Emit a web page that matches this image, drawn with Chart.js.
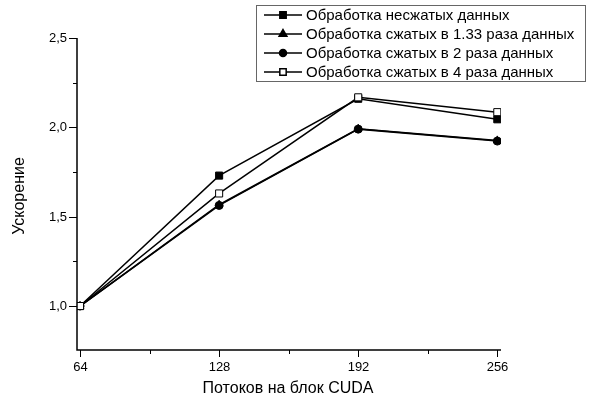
<!DOCTYPE html>
<html>
<head>
<meta charset="utf-8">
<script src="https://cdn.jsdelivr.net/npm/chart.js@4.4.0/dist/chart.umd.min.js"></script>
<style>
  html, body { margin: 0; padding: 0; background: #fff; }
  #wrap { width: 590px; height: 401px; }
</style>
</head>
<body>
<div id="wrap"><canvas id="myChart" width="590" height="401"></canvas></div>
<script>
var threads = [64, 128, 192, 256];
var uncompressed = [1.0, 1.73, 2.16, 2.045];
var compressed133 = [1.0, 1.567, 1.992, 1.927];
var compressed2 = [1.0, 1.563, 1.99, 1.923];
var compressed4 = [1.0, 1.63, 2.168, 2.085];

var seriesNames = [
  'Обработка несжатых данных',
  'Обработка сжатых в 1.33 раза данных',
  'Обработка сжатых в 2 раза данных',
  'Обработка сжатых в 4 раза данных'
];
var xTicks = [64, 96, 128, 160, 192, 224, 256];
var yTicks = [1.0, 1.25, 1.5, 1.75, 2.0, 2.25, 2.5];

function pts(arr) {
  return arr.map(function (v, i) { return { x: threads[i], y: v }; });
}

var ctx = document.getElementById('myChart').getContext('2d');
var FONT = '"Liberation Sans", Arial, sans-serif';

// axes, ticks, titles and legend box drawn by hand to mimic the Origin look
var origin = {
  id: 'origin',
  afterDraw: function (chart) {
    var c = chart.ctx;
    var a = chart.chartArea;
    var xs = chart.scales.x, ys = chart.scales.y;
    c.save();
    c.strokeStyle = '#000';
    c.fillStyle = '#000';
    c.lineWidth = 1.5;
    c.beginPath();
    c.moveTo(a.left, a.top);
    c.lineTo(a.left, a.bottom);
    c.lineTo(a.right, a.bottom);
    c.stroke();

    c.lineWidth = 1;
    c.font = '13px ' + FONT;
    c.textAlign = 'center';
    c.textBaseline = 'middle';
    xTicks.forEach(function (t) {
      var px = Math.round(xs.getPixelForValue(t)) + 0.5;
      var major = t % 64 === 0;
      c.beginPath();
      c.moveTo(px, a.bottom);
      c.lineTo(px, a.bottom + (major ? 7 : 4));
      c.stroke();
      if (major) c.fillText(String(t), px, a.bottom + 17);
    });
    c.textAlign = 'right';
    yTicks.forEach(function (t) {
      var py = Math.round(ys.getPixelForValue(t)) + 0.5;
      var major = Math.abs(t * 2 - Math.round(t * 2)) < 1e-6;
      c.beginPath();
      c.moveTo(a.left, py);
      c.lineTo(a.left - (major ? 8 : 4), py);
      c.stroke();
      if (major) c.fillText(t.toFixed(1).replace('.', ','), a.left - 10, py);
    });

    c.font = '16px ' + FONT;
    c.textAlign = 'center';
    c.fillText('Потоков на блок CUDA', (a.left + a.right) / 2 - 1, 389);
    c.save();
    c.translate(20, 196);
    c.rotate(-Math.PI / 2);
    c.fillText('Ускорение', 0, 0);
    c.restore();

    // legend
    var lx = 256.5, ly = 5.5, lw = 329, lh = 76;
    c.fillStyle = '#fff';
    c.fillRect(lx, ly, lw, lh);
    c.strokeStyle = '#666';
    c.lineWidth = 1;
    c.strokeRect(lx, ly, lw, lh);
    c.strokeStyle = '#000';
    c.textAlign = 'left';
    var rows = [15, 34, 53, 72];
    chart.data.datasets.forEach(function (ds, i) {
      var y = rows[i];
      c.lineWidth = 1.5;
      c.beginPath();
      c.moveTo(264, y);
      c.lineTo(302, y);
      c.stroke();
      c.fillStyle = ds.pointBackgroundColor;
      c.strokeStyle = '#000';
      Chart.helpers.drawPoint(c, {
        pointStyle: ds.pointStyle,
        radius: ds.pointStyle === 'circle' ? 3.5 : 4.5,
        borderWidth: 1
      }, 283, y);
      c.fillStyle = '#000';
      c.font = '15px ' + FONT;
      c.fillText(seriesNames[i], 306, y + 1);
    });
    c.restore();
  }
};

function ds(i, data, style, fill, radius, order) {
  return {
    label: seriesNames[i],
    data: pts(data),
    borderColor: '#000',
    borderWidth: 1.5,
    pointStyle: style,
    pointRadius: radius,
    pointHoverRadius: radius,
    pointBackgroundColor: fill,
    pointBorderColor: '#000',
    pointBorderWidth: 1,
    order: order,
    tension: 0
  };
}

var myChart = new Chart(ctx, {
  type: 'line',
  data: {
    datasets: [
      ds(0, uncompressed, 'rect', '#000', 5, 2),
      ds(1, compressed133, 'triangle', '#000', 4.5, 3),
      ds(2, compressed2, 'circle', '#000', 4, 1),
      ds(3, compressed4, 'rect', '#fff', 5, 0)
    ]
  },
  options: {
    responsive: false,
    animation: false,
    layout: { padding: { left: 77, right: 89, top: 38, bottom: 51 } },
    plugins: { legend: { display: false }, tooltip: { enabled: false } },
    scales: {
      x: { type: 'linear', min: 62.6, max: 257.7, display: false },
      y: { type: 'linear', min: 0.754, max: 2.5, display: false }
    }
  },
  plugins: [origin]
});
</script>
</body>
</html>
